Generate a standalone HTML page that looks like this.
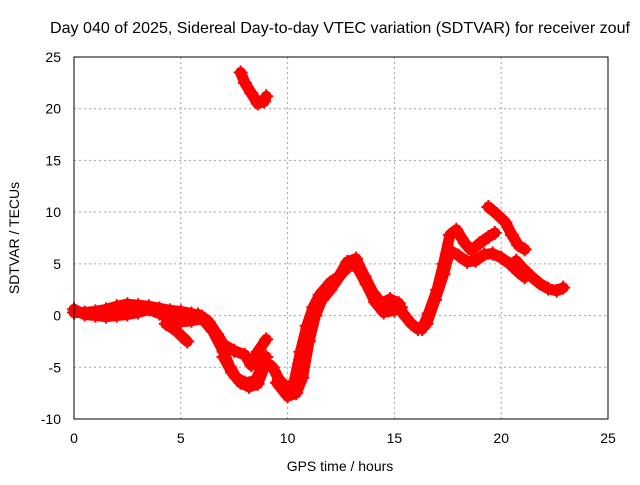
<!DOCTYPE html>
<html><head><meta charset="utf-8"><style>
body{margin:0;background:#fff}
svg text{font-family:"Liberation Sans",sans-serif;font-size:14px;fill:#000}
</style></head><body>
<svg id="chart" width="640" height="480" viewBox="0 0 640 480">
<text x="340" y="33" text-anchor="middle" style="font-size:16px" textLength="580" lengthAdjust="spacingAndGlyphs">Day 040 of 2025, Sidereal Day-to-day VTEC variation (SDTVAR) for receiver zouf</text>
<text x="340" y="471" text-anchor="middle">GPS time / hours</text>
<text transform="translate(19,238) rotate(-90)" text-anchor="middle">SDTVAR / TECUs</text>
<g id="grid"></g><g id="ticks"></g><g id="marks"></g>
<rect x="74" y="57" width="534" height="362" fill="none" stroke="#000" stroke-width="1"/>
</svg>
<script>
const xTicks=[0,5,10,15,20,25];
const yTicks=[-10,-5,0,5,10,15,20,25];
const traceA=[[0,0.3],[0.5,0.3],[1,0.4],[1.5,0.6],[2,0.9],[2.5,1.1],[3,1.0],[3.5,0.9],[4,0.7],[4.5,0.5],[5,0.4],[5.5,0.2],[6,-0.1],[6.3,-0.6],[6.7,-1.8],[7,-2.8],[7.5,-3.4],[8,-3.8],[8.3,-4.8],[8.6,-3.5],[9,-2.3]];
const traceB=[[0,0.6],[0.5,0.1],[1,0.0],[1.5,-0.1],[2,0.0],[2.5,0.1],[3,0.3],[3.5,0.6],[4,0.2],[4.5,-0.3],[5,-0.6],[5.5,-0.5],[6,-0.3],[6.5,-1.5],[7,-3.5],[7.3,-5.0],[7.6,-6.0],[8,-6.5],[8.5,-6.3],[9,-4.0]];
const traceC=[[4.3,-0.8],[4.8,-1.5],[5.3,-2.5]];
const traceD=[[5.8,0.1],[6.2,-0.5],[6.5,-1.5]];
const traceE=[[7,-4],[7.4,-5.5],[7.8,-6.5],[8.2,-6.9],[8.6,-6.6],[9,-4.5],[9.3,-5.0],[9.6,-6.2],[10,-7.0],[10.3,-6.5],[10.6,-3.5],[10.9,-1.0],[11.2,0.8],[11.5,2.0],[12,3.2],[12.4,3.8],[12.8,5.2],[13.2,5.5],[13.6,3.8],[14,2.2],[14.4,1.2],[14.8,1.6],[15.2,1.2],[15.4,0.2],[15.8,-0.8],[16.1,-1.3]];
const traceF=[[9.5,-6.5],[10,-7.8],[10.4,-7.5],[10.7,-6.0],[11,-2.5],[11.3,0.0],[11.6,1.5],[12,2.5],[12.5,4.0],[13,5.0],[13.3,4.5],[13.7,3.0],[14.1,1.3],[14.5,0.3],[15,0.5],[15.3,0.8]];
const traceG=[[16.3,-1.3],[16.6,0.2],[17,2.5],[17.3,5.0],[17.6,7.8],[17.9,8.3],[18.3,7.0],[18.6,6.3],[19,7.0],[19.4,7.6],[19.7,8.0]];
const traceH=[[16.5,-0.8],[16.9,1.5],[17.3,4.0],[17.6,6.3],[18,5.8],[18.4,5.2],[18.8,5.3],[19.2,5.9],[19.6,6.0],[20,5.6],[20.4,5.0],[20.8,4.2],[21.1,3.7]];
const traceI=[[19.4,10.5],[19.8,9.8],[20.2,9.0],[20.5,7.8],[20.8,6.8],[21.1,6.4]];
const traceJ=[[20.7,5.3],[21,4.6],[21.4,3.8],[21.8,3.1],[22.2,2.6],[22.6,2.4],[22.9,2.7]];
const traceK=[[7.8,23.5],[8.0,22.5],[8.3,21.5],[8.6,20.5],[8.9,20.7],[9.0,21.2]];
const traces=[traceA,traceB,traceC,traceD,traceE,traceF,traceG,traceH,traceI,traceJ,traceK];
const X=v=>74+v*534/25, Y=v=>57+(25-v)*362/35;
const NS='http://www.w3.org/2000/svg';
const g=document.getElementById('grid'),t=document.getElementById('ticks'),m=document.getElementById('marks');
xTicks.forEach(v=>{
 if(v>0&&v<25){const l=document.createElementNS(NS,'line');
 
 
 l.setAttribute('x1',X(v));l.setAttribute('x2',X(v));l.setAttribute('y1',57);l.setAttribute('y2',419);
 l.setAttribute('stroke','#a0a0a0');l.setAttribute('stroke-dasharray','2,3');g.appendChild(l);}
 const tx=document.createElementNS(NS,'text');
 
 
 tx.setAttribute('x',X(v));tx.setAttribute('y',443);tx.setAttribute('text-anchor','middle');tx.textContent=v;t.appendChild(tx);
});
yTicks.forEach(v=>{
 if(v>-10&&v<25){const l=document.createElementNS(NS,'line');
 
 
 l.setAttribute('x1',74);l.setAttribute('x2',608);l.setAttribute('y1',Y(v));l.setAttribute('y2',Y(v));
 l.setAttribute('stroke','#a0a0a0');l.setAttribute('stroke-dasharray','2,3');g.appendChild(l);}
 const tx=document.createElementNS(NS,'text');
 
 
 tx.setAttribute('x',61);tx.setAttribute('y',Y(v)+5);tx.setAttribute('text-anchor','end');tx.textContent=v;t.appendChild(tx);
});
traces.forEach(tr=>{
 const p=document.createElementNS(NS,'polyline');
 
 
 p.setAttribute('points',tr.map(d=>X(d[0])+','+Y(d[1])).join(' '));
 p.setAttribute('fill','none');p.setAttribute('stroke','#ff0000');p.setAttribute('stroke-width','11');
 p.setAttribute('stroke-linejoin','round');p.setAttribute('stroke-linecap','round');m.appendChild(p);
 tr.forEach(d=>{
  const c=document.createElementNS(NS,'path');
  
  
  const x=X(d[0]),y=Y(d[1]);
  c.setAttribute('d',`M${x-7},${y}H${x+7}M${x},${y-7}V${y+7}`);
  c.setAttribute('stroke','#ff0000');c.setAttribute('stroke-width','2');m.appendChild(c);
 });
});
</script>
</body></html>
